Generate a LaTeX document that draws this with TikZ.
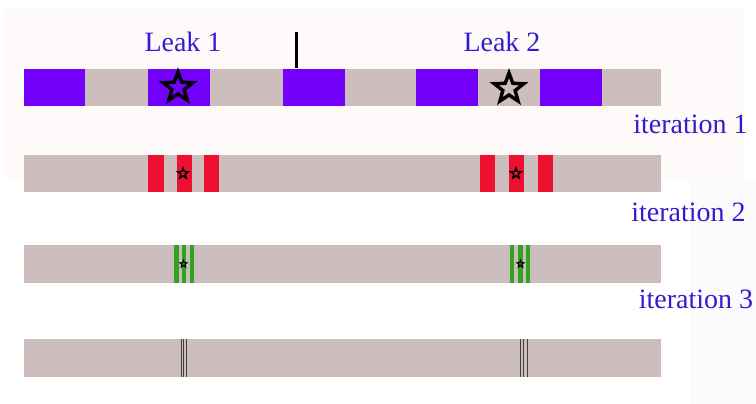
\documentclass[tikz,border=0pt]{standalone}
\usepackage{fontspec}
\setmainfont{Liberation Serif}
\usetikzlibrary{shapes.geometric}
\definecolor{bargray}{RGB}{205,189,189}
\definecolor{leakviolet}{RGB}{115,0,250}
\definecolor{redblk}{RGB}{238,16,48}
\definecolor{greenblk}{RGB}{46,165,30}
\definecolor{labelblue}{RGB}{52,28,205}
\definecolor{pinkbg}{RGB}{254,250,250}
\definecolor{bluebg}{RGB}{251,251,254}
\tikzset{
  lbl/.style={text=labelblue, font=\fontsize{28}{30}\selectfont, inner sep=0pt},
  starbig/.style={star, star points=5, star point ratio=2.4, draw=black, line width=3.4pt, minimum size=31pt, inner sep=0pt},
  starmid/.style={star, star points=5, star point ratio=2.4, draw=black, line width=1.5pt, minimum size=11pt, inner sep=0pt},
  starsmall/.style={star, star points=5, star point ratio=2.4, draw=black, line width=0.9pt, minimum size=8pt, inner sep=0pt},
  thinmark/.style={draw=black!75, line width=0.9pt},
}
\begin{document}
\begin{tikzpicture}[x=1pt,y=-1pt]
\useasboundingbox (0,0) rectangle (756,404);
\fill[white] (0,0) rectangle (756,404);
\fill[bluebg] (690,180) rectangle (756,404);
\fill[pinkbg] (5,8) rectangle (743,180);
% bars
\fill[bargray] (24,69.5) rectangle (661,106);
\fill[bargray] (24,155) rectangle (661,192);
\fill[bargray] (24,245) rectangle (661,283);
\fill[bargray] (24,339) rectangle (661,377);
% iteration 0 blocks
\fill[leakviolet] (24,69.5) rectangle (85,106);
\fill[leakviolet] (148,69.5) rectangle (210,106);
\fill[leakviolet] (283,69.5) rectangle (345,106);
\fill[leakviolet] (416,69.5) rectangle (478,106);
\fill[leakviolet] (540,69.5) rectangle (602,106);
\draw[line width=3pt] (296,32) -- (296,68);
\node[starbig] (s1) at (178,87.5) {};
\node[starbig] (s2) at (509,88.5) {};
% iteration 1 blocks
\foreach \a/\b in {148/164,177/192,204/219,480/495,509/524,538/553}
  \fill[redblk] (\a,155) rectangle (\b,192);
\node[starmid] (r1) at (183,173.5) {};
\node[starmid] (r2) at (516,173.5) {};
% iteration 2 blocks
\foreach \a/\b in {174/179,182/186,190/194,510/514,518/523,526/530}
  \fill[greenblk] (\a,245) rectangle (\b,283);
\node[starsmall, fill=greenblk!70!black] (g1) at (183.5,264) {};
\node[starsmall, fill=greenblk!70!black] (g2) at (520.5,264) {};
% iteration 3 marks
\foreach \x in {181,183.5,186,520,523.5,527}
  \draw[thinmark] (\x,339) -- (\x,377);
% labels
\node[lbl] (leak1) at (183,42) {Leak 1};
\node[lbl] (leak2) at (502,42) {Leak 2};
\node[lbl, anchor=base] (it1) at (690.5,133) {iteration 1};
\node[lbl, anchor=base] (it2) at (688.5,221) {iteration 2};
\node[lbl, anchor=base] (it3) at (696,308) {iteration 3};
\end{tikzpicture}
\end{document}
